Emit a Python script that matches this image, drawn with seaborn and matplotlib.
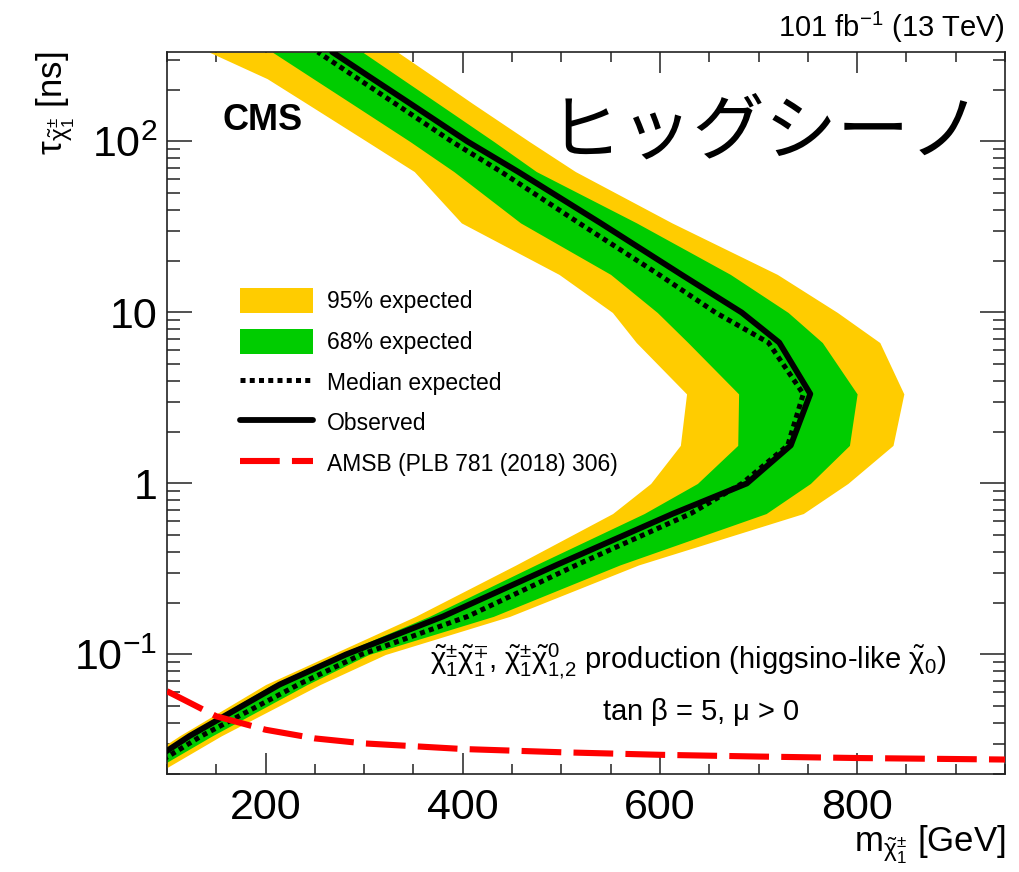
import matplotlib
matplotlib.use("Agg")
import matplotlib.pyplot as plt
from matplotlib.patches import Patch
from matplotlib.lines import Line2D
from matplotlib.ticker import MultipleLocator, LogLocator, NullFormatter, FixedLocator, FixedFormatter
import seaborn as sns

# Lifetime grid (ns) on which the limit contours are tabulated
tau = [0.02, 0.0334, 0.0667, 0.1, 0.167, 0.334, 0.667, 1.0, 1.67, 3.34,
       6.67, 10.0, 16.7, 33.4, 66.7, 100.0, 167.0, 233.0, 333.6]

# Chargino mass (GeV) of each contour at the lifetimes above
exp95_lo = [54, 112.5, 200, 267, 352, 454, 552, 590.6, 620.7, 627,
            576, 551.8, 497.6, 398.6, 350.8, 302.7, 241.5, 201.6, 142.5]
exp68_lo = [60, 118, 207, 274, 366, 474, 584, 638, 678.9, 679.8,
            628.4, 597.3, 549.9, 458.6, 390.9, 346.4, 287, 248.3, 206.7]
median_exp = [72.2, 135, 233.2, 297.2, 405.1, 515.5, 631.3, 683.3, 729.6, 745.4,
              710, 656.3, 598.7, 517.7, 438.6, 388.8, 331.1, 293.5, 252.9]
observed = [64.3, 123, 214.2, 281.5, 380.1, 495.3, 613.5, 688.1, 732.7, 752.5,
            721, 682.9, 621.4, 539.5, 455.8, 404.7, 346.4, 308.3, 267.6]
exp68_hi = [79.3, 145.7, 242.1, 304.6, 431, 559.4, 707.7, 752.6, 792.2, 800,
            764.7, 730, 671.4, 576.3, 474.6, 431.4, 374.8, 337.9, 298.2]
exp95_hi = [88.8, 154.9, 255.3, 321.6, 447.6, 578.4, 745.4, 790.6, 836.4, 847.4,
            823, 780, 719, 612.2, 514.2, 467.4, 409.8, 373.4, 333.8]

# AMSB prediction of the chargino lifetime vs mass
amsb_mass = [100, 150, 200, 250, 300, 400, 500, 600, 700, 800, 950]
amsb_tau = [0.061, 0.0435, 0.0363, 0.0323, 0.0302, 0.0280, 0.0268, 0.0259,
            0.0253, 0.0248, 0.0243]

ytick_vals = [0.1, 1, 10, 100]
ytick_text = [r"$10^{-1}$", "1", "10", r"$10^{2}$"]

YELLOW = "#FFCC00"
GREEN = "#00CC00"
RED = "#FF0000"

DOT = (0, (1.0, 0.85))
DASH = (0, (6.5, 2.0))

sns.set_style("white")
plt.rcParams["font.family"] = ["Liberation Sans", "DejaVu Sans"]
plt.rcParams["mathtext.fontset"] = "custom"
plt.rcParams["mathtext.rm"] = "Liberation Sans"
plt.rcParams["mathtext.it"] = "Liberation Sans:italic"
plt.rcParams["mathtext.bf"] = "Liberation Sans:bold"
plt.rcParams["mathtext.sf"] = "Liberation Sans"
plt.rcParams["mathtext.default"] = "regular"
for key in ["text.color", "axes.labelcolor", "xtick.color", "ytick.color"]:
    plt.rcParams[key] = "black"

fig = plt.figure(figsize=(10.2, 8.72), dpi=100)
ax = fig.add_axes([167 / 1020, 98 / 872, 838 / 1020, 722 / 872])
ax.set_yscale("log")

# Expected bands
ax.fill_betweenx(tau, exp95_lo, exp95_hi, color=YELLOW, lw=0, zorder=1)
ax.fill_betweenx(tau, exp68_lo, exp68_hi, color=GREEN, lw=0, zorder=2)

# Median expected and observed contours
sns.lineplot(x=median_exp, y=tau, sort=False, estimator=None, ax=ax,
             color="black", lw=3.6, ls=DOT, zorder=3)
sns.lineplot(x=observed, y=tau, sort=False, estimator=None, ax=ax,
             color="black", lw=4.2, zorder=4)
# AMSB curve
sns.lineplot(x=amsb_mass, y=amsb_tau, sort=False, estimator=None, ax=ax,
             color=RED, lw=4.4, ls=DASH, zorder=5)

ax.set_xlim(100, 950)
ax.set_ylim(0.02, 333.6)

ax.xaxis.set_major_locator(MultipleLocator(200))
ax.xaxis.set_minor_locator(MultipleLocator(50))
ax.yaxis.set_major_locator(FixedLocator(ytick_vals))
ax.yaxis.set_major_formatter(FixedFormatter(ytick_text))
ax.yaxis.set_minor_locator(LogLocator(base=10, subs=range(2, 10), numticks=20))
ax.yaxis.set_minor_formatter(NullFormatter())

ax.tick_params(which="both", direction="in", top=True, right=True,
               bottom=True, left=True, color="#222222", width=1.1)
ax.tick_params(axis="x", which="major", length=15, pad=10, labelsize=31)
ax.tick_params(axis="x", which="minor", length=7.5)
ax.tick_params(axis="y", which="major", length=18, pad=7, labelsize=31)
ax.tick_params(axis="y", which="minor", length=9)
for s in ax.spines.values():
    s.set_linewidth(1.2)
    s.set_color("#222222")

# Axis titles
ax.set_xlabel(r"m$_{\tilde{\chi}^{\pm}_{1}}$ [GeV]", fontsize=25)
ax.xaxis.set_label_coords(1.0, -0.1076)
ax.xaxis.label.set_ha("right")
ax.xaxis.label.set_va("baseline")

ax.set_ylabel(r"$\tau_{\tilde{\chi}^{\pm}_{1}}$ [ns]", fontsize=25)
ax.yaxis.label.set_rotation_mode("anchor")
ax.yaxis.label.set_ha("right")
ax.yaxis.label.set_va("baseline")
ax.yaxis.set_label_coords(-0.124, 1.0)

# Header and labels inside the frame
ax.text(1.0, 1.0208, r"101 fb$^{-1}$ (13 TeV)", transform=ax.transAxes,
        ha="right", va="baseline", fontsize=21)
ax.text(0.0665, 0.892, "CMS", transform=ax.transAxes, ha="left",
        va="baseline", fontsize=26, fontweight="bold")
ax.text(0.7136, 0.8878, "ヒッグシーノ", transform=ax.transAxes, ha="center",
        va="center", fontsize=52, family=["Noto Sans CJK JP", "DejaVu Sans"])
ax.text(0.6217, 0.146,
        r"$\tilde{\chi}^{\pm}_{1}\tilde{\chi}^{\mp}_{1}$, "
        r"$\tilde{\chi}^{\pm}_{1}\tilde{\chi}^{0}_{1{,}2}$ production "
        r"(higgsino-like $\tilde{\chi}_{0}$)",
        transform=ax.transAxes, ha="center", va="baseline", fontsize=21)
ax.text(0.637, 0.0748, r"tan $\beta$ = 5, $\mu$ > 0", transform=ax.transAxes,
        ha="center", va="baseline", fontsize=21)

handles = [
    Patch(facecolor=YELLOW, edgecolor="none", label="95% expected"),
    Patch(facecolor=GREEN, edgecolor="none", label="68% expected"),
    Line2D([], [], color="black", lw=3.6, ls=DOT, label="Median expected"),
    Line2D([], [], color="black", lw=4.2, label="Observed"),
    Line2D([], [], color=RED, lw=4.4, ls=DASH, label="AMSB (PLB 781 (2018) 306)"),
]
ax.legend(handles=handles, loc="upper left", bbox_to_anchor=(0.0871, 0.6725),
          frameon=False, fontsize=16.5, borderpad=0, borderaxespad=0,
          handlelength=3.19, handleheight=1.27, handletextpad=0.61,
          labelspacing=0.68)

fig.savefig("out.png", dpi=100)
